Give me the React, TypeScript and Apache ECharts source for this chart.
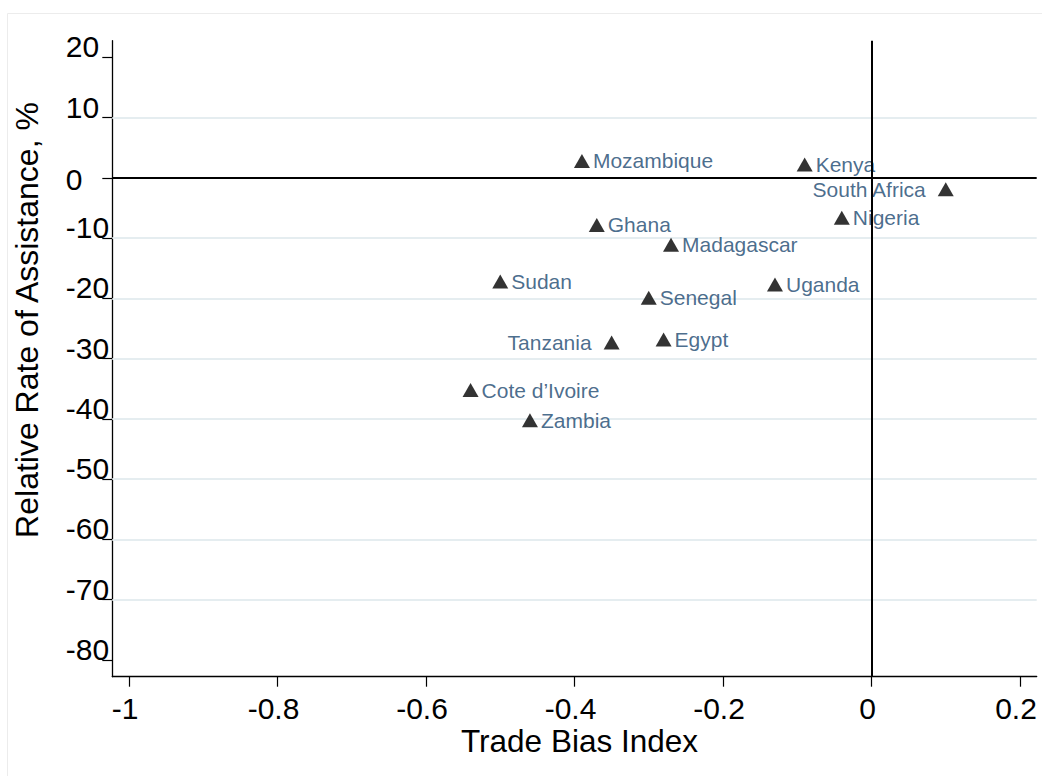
import React, { useEffect, useRef } from "react";
import * as echarts from "echarts";

const countries = [
  "Mozambique", "Kenya", "South Africa", "Nigeria", "Ghana", "Madagascar", "Sudan",
  "Senegal", "Uganda", "Tanzania", "Egypt", "Cote d’Ivoire", "Zambia",
];
const tradeBias = [-0.39, -0.09, 0.1, -0.04, -0.37, -0.27, -0.5, -0.3, -0.13, -0.35, -0.28, -0.54, -0.46];
const assistance = [2.8, 2.2, -1.9, -6.6, -7.8, -11.1, -17.2, -19.9, -17.7, -27.3, -26.8, -35.2, -40.2];
const leftLabelled = ["South Africa", "Tanzania"];

const xTicks = [-1, -0.8, -0.6, -0.4, -0.2, 0, 0.2];
const yTicks = [20, 10, 0, -10, -20, -30, -40, -50, -60, -70, -80];
const yGridLines = [10, -10, -20, -30, -40, -50, -60, -70];

const FONT = "'Liberation Sans', Arial, Helvetica, sans-serif";
const NAVY = "#1a476f";

export default function App() {
  const ref = useRef<HTMLDivElement>(null);

  useEffect(() => {
    if (!ref.current) return;
    const chart = echarts.init(ref.current, null, { renderer: "svg" });

    const points = countries.map((c, i) => {
      const left = leftLabelled.includes(c);
      return {
        name: c,
        value: [tradeBias[i], assistance[i]],
        label: left
          ? { position: "left", distance: 12, offset: [0, 2.5] }
          : { position: "right", distance: 3, offset: [0, 2] },
      };
    });

    chart.setOption({
      animation: false,
      backgroundColor: "#ffffff",
      grid: {
        left: 112.3,
        right: 5.3,
        top: 40.7,
        bottom: 99.3,
        containLabel: false,
        outerBoundsMode: "none",
      },
      xAxis: {
        type: "value",
        min: -1.0225,
        max: 0.2225,
        splitLine: { show: false },
        axisLine: { show: true, onZero: false, lineStyle: { color: "#000", width: 1.3 } },
        axisTick: { show: true, length: 10, customValues: xTicks, lineStyle: { color: "#000", width: 1.2 } },
        axisLabel: {
          customValues: xTicks,
          formatter: (v: number) => String(v),
          fontSize: 30,
          lineHeight: 22,
          fontFamily: FONT,
          color: "#000",
          margin: 21,
          padding: [0, 8, 0, 0],
          hideOverlap: false,
        },
      },
      yAxis: {
        type: "value",
        min: -82.77,
        max: 22.76,
        splitLine: { show: false },
        axisLine: { show: true, onZero: false, lineStyle: { color: "#000", width: 1.3 } },
        axisTick: { show: true, length: 10, customValues: yTicks, lineStyle: { color: "#000", width: 1.2 } },
        axisLabel: {
          customValues: yTicks,
          align: "left",
          margin: 46.5,
          fontSize: 30,
          lineHeight: 30,
          fontFamily: FONT,
          color: "#000",
          hideOverlap: false,
          formatter: (v: number) => (v === 0 ? `{z|${v}}` : `{b|${v}}`),
          rich: {
            b: { fontSize: 30, lineHeight: 30, fontFamily: FONT, color: "#000", padding: [0, 0, 21, 0] },
            z: { fontSize: 30, lineHeight: 30, fontFamily: FONT, color: "#000", padding: [4, 0, 0, 0] },
          },
        },
      },
      graphic: [
        {
          type: "rect",
          silent: true,
          shape: { x: 7.5, y: 13.5, width: 1100, height: 800 },
          style: { fill: "none", stroke: "#ececec", lineWidth: 1 },
          z: -10,
        },
        {
          type: "text",
          x: 579.5,
          y: 741,
          style: {
            text: "Trade Bias Index",
            fontSize: 31.5,
            lineHeight: 24,
            fontFamily: FONT,
            fill: "#000",
            align: "center",
            verticalAlign: "middle",
          },
        },
        {
          type: "text",
          x: 26.5,
          y: 320,
          rotation: Math.PI / 2,
          style: {
            text: "Relative Rate of Assistance, %",
            fontSize: 32,
            fontFamily: FONT,
            fill: "#000",
            align: "center",
            verticalAlign: "middle",
          },
        },
      ],
      series: [
        {
          type: "line",
          data: [],
          silent: true,
          z: 1,
          markLine: {
            silent: true,
            z: 1,
            symbol: ["none", "none"],
            label: { show: false },
            lineStyle: { color: "#e5edf0", width: 2, type: "solid" },
            data: yGridLines.map((v) => ({ yAxis: v })),
          },
        },
        {
          type: "line",
          data: [],
          silent: true,
          z: 5,
          markLine: {
            silent: true,
            z: 5,
            symbol: ["none", "none"],
            label: { show: false },
            lineStyle: { color: "#000", width: 2, type: "solid" },
            data: [{ yAxis: 0 }, { xAxis: 0 }],
          },
        },
        {
          type: "scatter",
          z: 3,
          symbol: "triangle",
          symbolSize: [16, 14],
          itemStyle: { color: "#000" },
          label: {
            show: true,
            formatter: (p: any) => p.name,
            fontSize: 21,
            fontFamily: FONT,
            color: NAVY,
          },
          labelLayout: { hideOverlap: false },
          data: points,
        },
      ],
    });

    return () => chart.dispose();
  }, []);

  return (
    <div
      ref={ref}
      style={{ position: "fixed", left: 0, top: 0, width: 1042, height: 776, background: "#fff" }}
    />
  );
}
